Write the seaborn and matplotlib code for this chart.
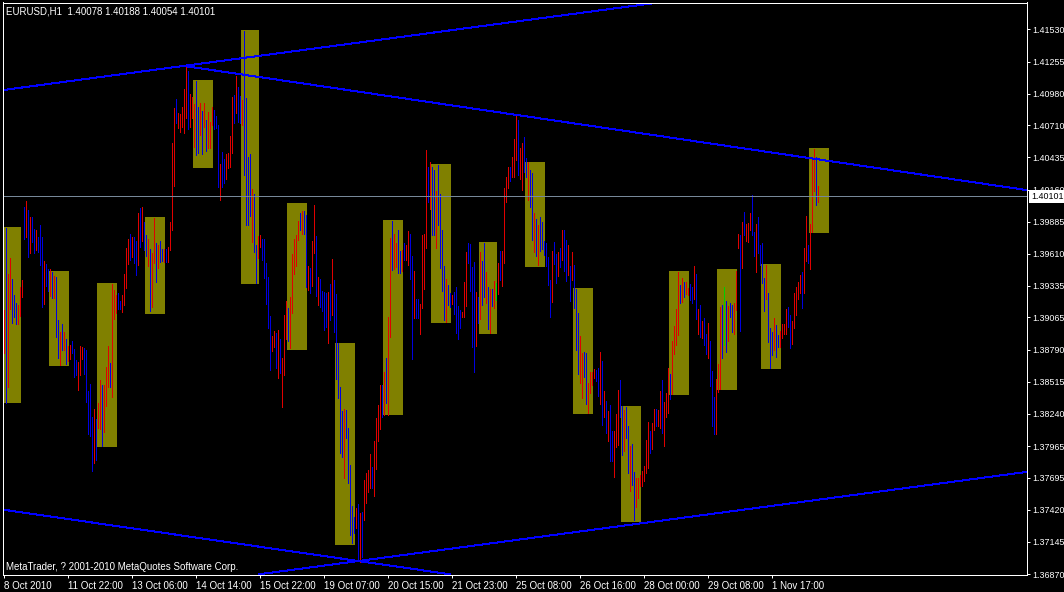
import matplotlib
matplotlib.use("Agg")
import matplotlib.pyplot as plt
import numpy as np
import pandas as pd
import seaborn as sns

# ---------------- data ----------------
symbol_text = "EURUSD,H1  1.40078 1.40188 1.40054 1.40101"
copyright_text = "MetaTrader, ? 2001-2010 MetaQuotes Software Corp."
last_price = 1.40101

# hourly bars (index = bar number from 8 Oct 2010 14:00)
bar_high = [
    1.39129, 1.39830, 1.39437, 1.39574, 1.39394, 1.39257, 1.39189, 1.39172, 1.39326, 1.39386,
    1.40010, 1.40061, 1.39984, 1.39925, 1.39925, 1.39822, 1.39813, 1.39753, 1.39856, 1.39753,
    1.39548, 1.39522, 1.39480, 1.39480, 1.39454, 1.39420, 1.39411, 1.39043, 1.38941, 1.39009,
    1.38941, 1.38881, 1.38821, 1.38830, 1.38864, 1.38795, 1.38701, 1.38684, 1.38821, 1.38813,
    1.38804, 1.38787, 1.38436, 1.38496, 1.38214, 1.38282, 1.38196, 1.38333, 1.38530, 1.38487,
    1.38487, 1.38641, 1.38821, 1.38675, 1.39351, 1.39300, 1.39257, 1.39274, 1.39206, 1.39257,
    1.39437, 1.39659, 1.39736, 1.39779, 1.39753, 1.39753, 1.39719, 1.39959, 1.40002, 1.40010,
    1.39882, 1.39771, 1.39736, 1.39651, 1.39617, 1.39916, 1.39702, 1.39685, 1.39719, 1.39651,
    1.39651, 1.39651, 1.39668, 1.39882, 1.40558, 1.40857, 1.40934, 1.40814, 1.40806, 1.40866,
    1.41020, 1.41216, 1.41174, 1.40977, 1.40951, 1.40891, 1.41088, 1.40866, 1.40900, 1.40831,
    1.40900, 1.40754, 1.40823, 1.40737, 1.40866, 1.40840, 1.40789, 1.40712, 1.40378, 1.40481,
    1.40421, 1.40463, 1.40472, 1.40617, 1.40951, 1.40968, 1.41131, 1.41037, 1.40960, 1.40926,
    1.41516, 1.40943, 1.40438, 1.40464, 1.40164, 1.40121, 1.39685, 1.39762, 1.39771, 1.39736,
    1.39736, 1.39531, 1.39411, 1.39078, 1.38907, 1.38950, 1.38933, 1.38958, 1.38881, 1.38718,
    1.39086, 1.39206, 1.39146, 1.39240, 1.39608, 1.39736, 1.39771, 1.39890, 1.39959, 1.39976,
    1.39976, 1.39942, 1.39506, 1.39488, 1.39719, 1.40027, 1.39762, 1.39411, 1.39394, 1.39291,
    1.39283, 1.39274, 1.39283, 1.39351, 1.39565, 1.39386, 1.39266, 1.38847, 1.38470, 1.38265,
    1.38282, 1.38273, 1.38119, 1.37803, 1.37452, 1.37358, 1.37435, 1.37469, 1.37392, 1.37401,
    1.37675, 1.37735, 1.37760, 1.37897, 1.37786, 1.38008, 1.38205, 1.38316, 1.38487, 1.38487,
    1.38598, 1.38718, 1.39069, 1.39745, 1.39890, 1.39779, 1.39702, 1.39813, 1.39634, 1.39642,
    1.39702, 1.39685, 1.39805, 1.39779, 1.39591, 1.39463, 1.39223, 1.39223, 1.39180, 1.39771,
    1.39779, 1.40498, 1.40353, 1.40395, 1.40353, 1.40327, 1.40147, 1.40370, 1.40121, 1.39813,
    1.39506, 1.39394, 1.39343, 1.39274, 1.39257, 1.39283, 1.39326, 1.39163, 1.39129, 1.39112,
    1.39369, 1.39625, 1.39702, 1.39694, 1.39497, 1.39540, 1.39283, 1.39240, 1.39625, 1.39548,
    1.39702, 1.39454, 1.39326, 1.39309, 1.39309, 1.39377, 1.39360, 1.39531, 1.39634, 1.39634,
    1.40173, 1.40267, 1.40353, 1.40353, 1.40438, 1.40592, 1.40797, 1.40754, 1.40515, 1.40558,
    1.40609, 1.40429, 1.40395, 1.40327, 1.40301, 1.39959, 1.39907, 1.39856, 1.39925, 1.39882,
    1.39719, 1.39702, 1.39582, 1.39386, 1.39634, 1.39711, 1.39608, 1.39625, 1.39659, 1.39813,
    1.39813, 1.39727, 1.39685, 1.39506, 1.39625, 1.39514, 1.39309, 1.39103, 1.38907, 1.38761,
    1.38770, 1.38761, 1.38504, 1.38598, 1.38598, 1.38624, 1.38616, 1.38633, 1.38770, 1.38693,
    1.38436, 1.38350, 1.38265, 1.38316, 1.38094, 1.38094, 1.38239, 1.38445, 1.38530, 1.38308,
    1.38273, 1.38299, 1.38137, 1.37965, 1.37983, 1.37743, 1.37692, 1.37692, 1.37717, 1.37752,
    1.37794, 1.38017, 1.38171, 1.38094, 1.38162, 1.38282, 1.38282, 1.38273, 1.38436, 1.38530,
    1.38342, 1.38419, 1.38633, 1.38581, 1.38864, 1.38992, 1.39138, 1.39454, 1.39343, 1.39403,
    1.39369, 1.39369, 1.39317, 1.39351, 1.39326, 1.39506, 1.39437, 1.39138, 1.39172, 1.39035,
    1.39061, 1.38924, 1.39018, 1.38864, 1.38607, 1.38385, 1.38539, 1.38667, 1.39155, 1.39172,
    1.39326, 1.39206, 1.39163, 1.39189, 1.39172, 1.39189, 1.39463, 1.39779, 1.39771, 1.39882,
    1.39967, 1.39864, 1.39873, 1.39959, 1.40113, 1.39796, 1.39864, 1.39925, 1.39685, 1.39702,
    1.39403, 1.39514, 1.39274, 1.38975, 1.38941, 1.39061, 1.39001, 1.38915, 1.38950, 1.39009,
    1.39009, 1.39138, 1.39155, 1.39086, 1.39035, 1.39274, 1.39326, 1.39369, 1.39428, 1.39454,
    1.39659, 1.39933, 1.39685, 1.39864, 1.40421, 1.40507, 1.40438, 1.40188,
]
bar_low = [
    1.38761, 1.38333, 1.38470, 1.39138, 1.39018, 1.39069, 1.39009, 1.39009, 1.39078, 1.39240,
    1.39736, 1.39753, 1.39582, 1.39617, 1.39711, 1.39617, 1.39642, 1.39625, 1.39514, 1.39155,
    1.39180, 1.39334, 1.39291, 1.39249, 1.39232, 1.39232, 1.38898, 1.38718, 1.38658, 1.38787,
    1.38787, 1.38667, 1.38693, 1.38710, 1.38761, 1.38556, 1.38573, 1.38445, 1.38573, 1.38710,
    1.38581, 1.38342, 1.38068, 1.38051, 1.37752, 1.37820, 1.37846, 1.38119, 1.38111, 1.37965,
    1.38085, 1.38308, 1.38470, 1.38470, 1.38385, 1.39052, 1.39103, 1.39138, 1.39138, 1.39112,
    1.39172, 1.39317, 1.39522, 1.39557, 1.39582, 1.39531, 1.39428, 1.39514, 1.39668, 1.39719,
    1.39642, 1.39591, 1.39506, 1.39120, 1.39155, 1.39531, 1.39369, 1.39488, 1.39540, 1.39548,
    1.39540, 1.39540, 1.39540, 1.39642, 1.39813, 1.40190, 1.40729, 1.40686, 1.40651, 1.40694,
    1.40643, 1.40772, 1.40678, 1.40694, 1.40772, 1.40523, 1.40455, 1.40472, 1.40626, 1.40464,
    1.40694, 1.40489, 1.40515, 1.40515, 1.40712, 1.40678, 1.40686, 1.40181, 1.40070, 1.40181,
    1.40216, 1.40250, 1.40344, 1.40352, 1.40472, 1.40729, 1.40814, 1.40737, 1.40729, 1.40712,
    1.40284, 1.39856, 1.39856, 1.39933, 1.39711, 1.39625, 1.39360, 1.39574, 1.39668, 1.39557,
    1.39403, 1.39180, 1.38975, 1.38616, 1.38779, 1.38813, 1.38633, 1.38548, 1.38590, 1.38299,
    1.38573, 1.38881, 1.38864, 1.38804, 1.39103, 1.39437, 1.39506, 1.39727, 1.39813, 1.39779,
    1.39779, 1.39326, 1.39300, 1.39274, 1.39334, 1.39617, 1.39249, 1.39172, 1.39155, 1.39120,
    1.38957, 1.38984, 1.38847, 1.39043, 1.39086, 1.38941, 1.38539, 1.38376, 1.37905, 1.37871,
    1.37691, 1.38034, 1.37649, 1.37204, 1.37136, 1.37221, 1.37264, 1.36990, 1.36973, 1.37016,
    1.37332, 1.37478, 1.37572, 1.37606, 1.37606, 1.37538, 1.37769, 1.38008, 1.38111, 1.38214,
    1.38231, 1.38333, 1.38231, 1.38898, 1.39471, 1.39480, 1.39497, 1.39446, 1.39446, 1.39463,
    1.39557, 1.39557, 1.39514, 1.39394, 1.38710, 1.39061, 1.39061, 1.39061, 1.38924, 1.39146,
    1.39309, 1.39659, 1.40053, 1.39993, 1.39771, 1.39771, 1.39659, 1.39856, 1.39488, 1.39291,
    1.39043, 1.39026, 1.39172, 1.39155, 1.39180, 1.39095, 1.38933, 1.38881, 1.38975, 1.39069,
    1.39069, 1.39163, 1.39531, 1.39291, 1.38813, 1.38598, 1.38821, 1.39018, 1.39052, 1.39172,
    1.39240, 1.39189, 1.38967, 1.38933, 1.39163, 1.39146, 1.39214, 1.39266, 1.39386, 1.39334,
    1.39531, 1.40053, 1.40173, 1.40233, 1.40267, 1.40267, 1.40412, 1.40284, 1.40250, 1.40156,
    1.40310, 1.40267, 1.40070, 1.40010, 1.39727, 1.39625, 1.39591, 1.39514, 1.39634, 1.39651,
    1.39599, 1.39506, 1.39343, 1.39069, 1.39197, 1.39522, 1.39360, 1.39420, 1.39497, 1.39557,
    1.39463, 1.39377, 1.39428, 1.39206, 1.39386, 1.39146, 1.38787, 1.38581, 1.38504, 1.38376,
    1.38556, 1.38325, 1.38248, 1.38419, 1.38487, 1.38547, 1.38521, 1.38393, 1.38325, 1.38145,
    1.38214, 1.38077, 1.38008, 1.37837, 1.37837, 1.37700, 1.37957, 1.37974, 1.38214, 1.37888,
    1.37923, 1.38034, 1.37735, 1.37580, 1.37632, 1.37332, 1.37444, 1.37521, 1.37623, 1.37623,
    1.37666, 1.37735, 1.37777, 1.37906, 1.37940, 1.38102, 1.38137, 1.38137, 1.38119, 1.38077,
    1.37965, 1.38214, 1.38248, 1.38367, 1.38410, 1.38752, 1.38830, 1.38915, 1.39189, 1.39197,
    1.39240, 1.39266, 1.39257, 1.39214, 1.39189, 1.39223, 1.39052, 1.38924, 1.38898, 1.38890,
    1.38830, 1.38752, 1.38718, 1.38479, 1.38137, 1.38068, 1.38068, 1.38427, 1.38453, 1.38718,
    1.38830, 1.38770, 1.38864, 1.39069, 1.38941, 1.38924, 1.39129, 1.39659, 1.38950, 1.39488,
    1.39771, 1.39719, 1.39711, 1.39813, 1.39771, 1.39591, 1.39454, 1.39617, 1.39514, 1.39360,
    1.39120, 1.39223, 1.38855, 1.38633, 1.38744, 1.38787, 1.38727, 1.38813, 1.38813, 1.38890,
    1.38924, 1.38924, 1.38984, 1.38804, 1.38838, 1.38975, 1.39086, 1.39223, 1.39274, 1.39146,
    1.39274, 1.39548, 1.39531, 1.39480, 1.39796, 1.40147, 1.40027, 1.40054,
]
# r = up bar, b = down bar, g = unchanged
bar_dir = (
    "rbrrbbbrrr" "brbrbbrbbb" "rbbrbrbbrb" "rbrrbbbrrr" "bbbbbrbrrb"
    "rrrbrrrbbr" "rrrbrbbrbr" "bbrbrrbrbb" "rbrrrrbrrr" "rrbrrrbbrb"
    "rbrrrbbbrb" "brrrrbrbbr" "bbbbrbbrrb" "bbbbrrbrbr" "rrbrrrrrbr"
    "bbrbrrbrbb" "bbrbrbbbbb" "rbbbbbrbrb" "rrrrbrrrrb" "rbrrbrrbbr"
    "brrbbrbbrr" "rrbrbbrbbb" "brbbrbbbbr" "rrbbbbrbrb" "brbrbrgrbr"
    "rrrbrrrbrr" "bbrbbrbrbb" "bbbbrbbrbr" "bbrbrbbbrr" "bbrrrrbbrb"
    "rbrbbrrrbb" "rbbrbbrrrr" "rrrbrrbrrb" "rrrbrrrrbr" "brrbbrbrbr"
    "bbrbbbrrrb" "gbrbbrrrbr" "brrrbbrbbb" "brbbbrbbrr" "rrbbrrrrrb"
    "rrbrrrbr"
)

# daily session boxes (bar ranges and price range)
box_first_bar = [0, 23, 47, 71, 95, 119, 142, 166, 190, 214, 238, 261, 285, 309, 333, 357, 379, 403]
box_last_bar = [8, 32, 56, 80, 104, 127, 151, 175, 199, 223, 246, 270, 294, 318, 342, 366, 388, 412]
box_top = [1.39839, 1.39462, 1.39360, 1.39924, 1.41096, 1.41524, 1.40044, 1.38846, 1.39899,
           1.40378, 1.39710, 1.40395, 1.39317, 1.38307, 1.39462, 1.39479, 1.39522, 1.40514]
box_bottom = [1.38335, 1.38652, 1.37959, 1.39097, 1.40346, 1.39354, 1.38789, 1.37121, 1.38233,
              1.39020, 1.38926, 1.39499, 1.38239, 1.37315, 1.38401, 1.38444, 1.38624, 1.39787]

# trend lines: end points (bar index, price)
trend_a_bar = [-0.25, 332.0]
trend_a_price = [1.41011, 1.41770]
trend_b_bar = [90.75, 511.25]
trend_b_price = [1.41216, 1.40156]
trend_c_bar = [-0.25, 223.25]
trend_c_price = [1.37421, 1.36868]
trend_d_bar = [127.75, 511.25]
trend_d_price = [1.36868, 1.37743]

# axes
y_ticks = [1.41530, 1.41255, 1.40980, 1.40710, 1.40435, 1.40160, 1.39885, 1.39610, 1.39335,
           1.39065, 1.38790, 1.38515, 1.38240, 1.37965, 1.37695, 1.37420, 1.37145, 1.36870]
x_tick_bars = [0, 32, 64, 96, 128, 160, 192, 224, 256, 288, 320, 352, 384]
x_tick_labels = ["8 Oct 2010", "11 Oct 22:00", "13 Oct 06:00", "14 Oct 14:00", "15 Oct 22:00",
                 "19 Oct 07:00", "20 Oct 15:00", "21 Oct 23:00", "25 Oct 08:00", "26 Oct 16:00",
                 "28 Oct 00:00", "29 Oct 08:00", "1 Nov 17:00"]
x_range = (-0.5, 511.5)
y_range = (1.36866, 1.41760)

# ---------------- styling ----------------
sns.set_theme(style="dark", rc={
    "axes.facecolor": "black", "figure.facecolor": "black", "savefig.facecolor": "black",
    "axes.edgecolor": "white", "text.color": "white", "xtick.color": "white",
    "ytick.color": "white", "axes.grid": False, "axes.linewidth": 0.72,
})
plt.rcParams["font.family"] = ["Liberation Sans", "DejaVu Sans"]
FS = 7
FS_Y = 6.4

W, H = 1064, 592
fig = plt.figure(figsize=(W / 100, H / 100), dpi=100)
ax = fig.add_axes([2.5 / W, (H - 574.5) / H, 1024 / W, 572 / H])
ax.set_facecolor("black")

df = pd.DataFrame({"bar": np.arange(len(bar_high)), "high": bar_high, "low": bar_low,
                   "dir": list(bar_dir)})
color_map = {"r": "#E00000", "b": "#0000E0", "g": "#00D000"}

# daily boxes
bx = pd.DataFrame({"first": box_first_bar, "last": box_last_bar, "top": box_top, "bottom": box_bottom})
ax.bar(bx["first"] - 0.25, bx["top"] - bx["bottom"], bottom=bx["bottom"],
       width=bx["last"] - bx["first"] + 1, align="edge", color="#808000", linewidth=0, zorder=1)

# hourly bars
ax.vlines(df["bar"], df["low"], df["high"], colors=df["dir"].map(color_map),
          linewidth=0.72, antialiased=False, zorder=2)

# last price line
ax.axhline(last_price, color="#778899", linewidth=0.72, antialiased=False, zorder=3)

# trend lines
for bars, prices in [(trend_a_bar, trend_a_price), (trend_b_bar, trend_b_price),
                     (trend_c_bar, trend_c_price), (trend_d_bar, trend_d_price)]:
    sns.lineplot(x=bars, y=prices, color="#0000FF", linewidth=0.72, ax=ax,
                 legend=False, antialiased=False, zorder=4)

ax.set_xlim(*x_range)
ax.set_ylim(*y_range)

for s in ax.spines.values():
    s.set_visible(True)
    s.set_color("white")
    s.set_linewidth(0.72)
    s.set_zorder(6)

ax.set_yticks(y_ticks)
ax.set_yticklabels([f"{v:.5f}" for v in y_ticks])
ax.yaxis.tick_right()
ax.tick_params(axis="y", which="both", left=False, right=True, labelleft=False, labelright=True,
               length=2.5, width=0.72, pad=1.8, labelsize=FS_Y, colors="white", direction="out")
ax.set_xticks(x_tick_bars)
ax.set_xticklabels(x_tick_labels)
ax.tick_params(axis="x", which="both", bottom=True, top=False, length=2.5, width=0.72, pad=2.5,
               labelsize=FS, colors="white", direction="out")
for lbl in ax.get_xticklabels():
    lbl.set_horizontalalignment("left")
ax.set_xlabel("")
ax.set_ylabel("")

ax.annotate(symbol_text, xy=(0, 1), xycoords="axes fraction", xytext=(4, -4),
            textcoords="offset pixels", ha="left", va="top", fontsize=FS, color="white", zorder=7)
ax.annotate(copyright_text, xy=(0, 0), xycoords="axes fraction", xytext=(3.5, 3),
            textcoords="offset pixels", ha="left", va="bottom", fontsize=FS, color="white", zorder=7)
ax.annotate(f"{last_price:.5f}", xy=(1, last_price), xycoords=("axes fraction", "data"),
            xytext=(4.5, 0), textcoords="offset pixels", ha="left", va="center",
            fontsize=FS_Y, color="black", annotation_clip=False, zorder=8,
            bbox=dict(boxstyle="square,pad=0.25", fc="white", ec="white", lw=0))

fig.savefig("out.png", dpi=100, facecolor="black")
